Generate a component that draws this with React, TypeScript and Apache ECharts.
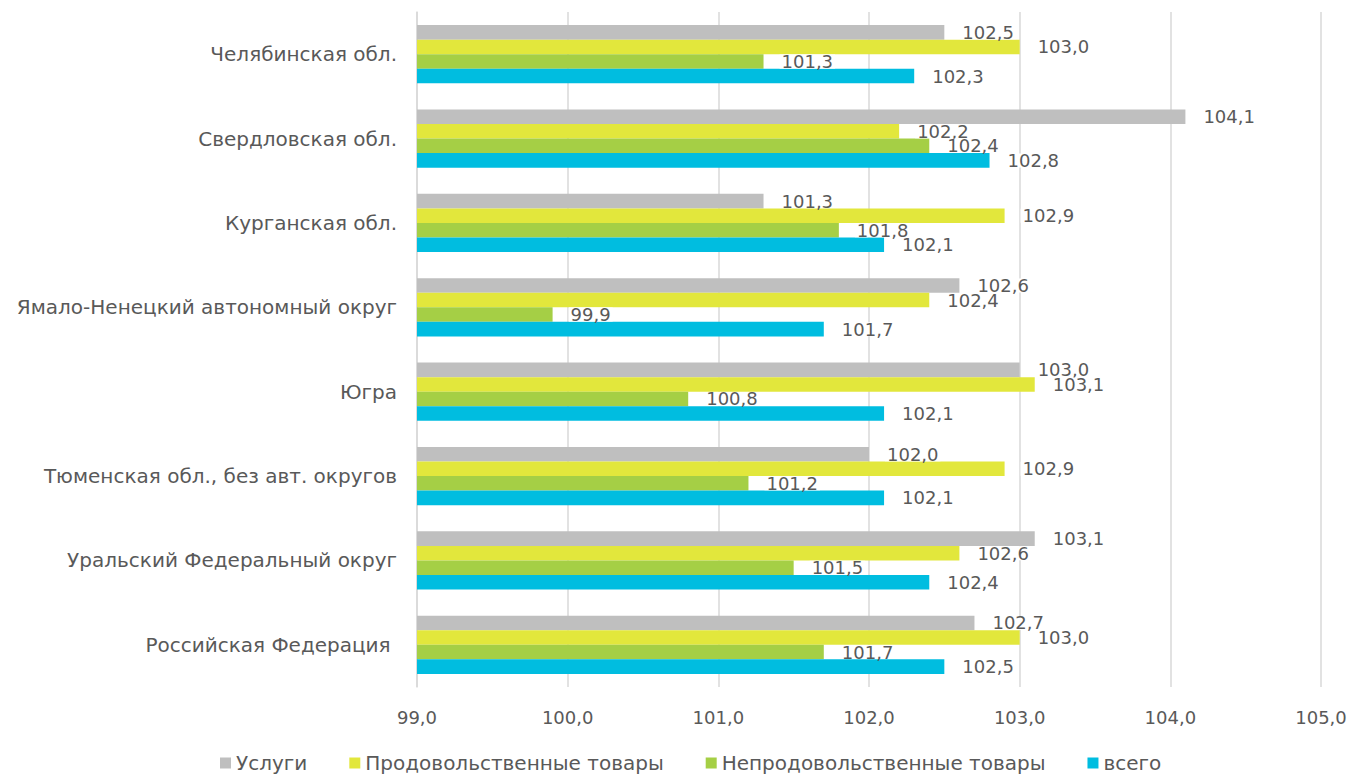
import React, { useEffect, useRef } from "react";
import * as echarts from "echarts";

const categories = [
  "Челябинская обл.",
  "Свердловская обл.",
  "Курганская обл.",
  "Ямало-Ненецкий автономный округ",
  "Югра",
  "Тюменская обл., без авт. округов",
  "Уральский Федеральный округ",
  "Российская Федерация ",
];

const seriesNames = [
  "Услуги",
  "Продовольственные товары",
  "Непродовольственные товары",
  "всего",
];

const uslugi = [102.5, 104.1, 101.3, 102.6, 103.0, 102.0, 103.1, 102.7];
const prod = [103.0, 102.2, 102.9, 102.4, 103.1, 102.9, 102.6, 103.0];
const neprod = [101.3, 102.4, 101.8, 99.9, 100.8, 101.2, 101.5, 101.7];
const vsego = [102.3, 102.8, 102.1, 101.7, 102.1, 102.1, 102.4, 102.5];

const xTicks = { min: 99, max: 105, interval: 1 };

const colors = ["#bfbfbf", "#e2e73c", "#a5cf45", "#00bde0"];
const FONT = "DejaVu Sans";
const TEXT = "#595959";

const fmt = (v: number) => v.toFixed(1).replace(".", ",");

export default function App() {
  const ref = useRef<HTMLDivElement>(null);
  useEffect(() => {
    if (!ref.current) return;
    const chart = echarts.init(ref.current, undefined, { renderer: "svg" });
    const dataSets = [uslugi, prod, neprod, vsego];
    chart.setOption({
      animation: false,
      backgroundColor: "#ffffff",
      textStyle: { fontFamily: FONT },
      grid: { left: 417, right: 31, top: 12, bottom: 88, containLabel: false },
      legend: {
        data: seriesNames,
        left: 215,
        top: 747,
        itemWidth: 11,
        itemHeight: 11,
        itemGap: 42,
        icon: "rect",
        textStyle: { color: TEXT, fontSize: 20, fontFamily: FONT, lineHeight: 22 },
      },
      xAxis: {
        type: "value",
        min: xTicks.min,
        max: xTicks.max,
        interval: xTicks.interval,
        startValue: xTicks.min,
        axisLine: { show: false },
        axisTick: { show: false },
        splitLine: { show: true, lineStyle: { color: "#d9d9d9", width: 1.5 } },
        axisLabel: {
          color: TEXT,
          fontSize: 18,
          fontFamily: FONT,
          margin: 21,
          formatter: (v: number) => fmt(v),
        },
      },
      yAxis: {
        type: "category",
        inverse: true,
        data: categories,
        axisLine: { show: true, lineStyle: { color: "#d9d9d9", width: 1.5 } },
        axisTick: { show: false },
        axisLabel: { color: TEXT, fontSize: 20, fontFamily: FONT, margin: 20 },
      },
      series: seriesNames.map((name, i) => ({
        name,
        type: "bar",
        data: dataSets[i],
        barGap: "0%",
        barCategoryGap: "31%",
        clip: true,
        itemStyle: { color: colors[i] },
        label: {
          show: true,
          position: "right",
          distance: 16,
          color: TEXT,
          fontSize: 18,
          fontFamily: FONT,
          backgroundColor: "#ffffff",
          padding: [0, 2],
          lineHeight: 14,
          formatter: (p: any) => fmt(p.value),
        },
      })),
    });
    return () => chart.dispose();
  }, []);
  return (
    <div
      ref={ref}
      style={{ position: "absolute", left: 0, top: 0, width: 1352, height: 775 }}
    />
  );
}
